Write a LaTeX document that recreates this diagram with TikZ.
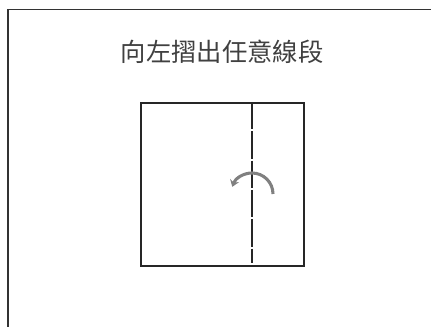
\documentclass[tikz,border=0pt]{standalone}
\usepackage{fontspec}
\newfontfamily\cjk{Noto Sans CJK TC}
\usetikzlibrary{arrows.meta}
\begin{document}
\begin{tikzpicture}[x=0.75pt,y=-0.75pt,
  frame/.style={draw=black!80,line width=1.3pt},
  sq/.style={draw=black!85,line width=1.2pt},
  fold/.style={draw=black!85,line width=1.1pt,dash pattern=on 20.5pt off 1.5pt},
  turn/.style={draw=black!50,line width=2.3pt,-{Stealth[length=5pt,width=7pt]}},
  title/.style={font=\cjk\fontsize{19}{22}\selectfont,text=black!75,inner sep=0pt}]
\useasboundingbox (0,0) rectangle (431,327);
\draw[frame] (8,340) -- (8,9.5) -- (440,9.5);
\node[sq,minimum width=163*0.75pt,minimum height=163*0.75pt,anchor=north west,inner sep=0pt] (paper) at (140,102) {};
\coordinate (ftop) at (252,102);
\coordinate (fbot) at (252,263);
\draw[fold] (ftop) -- (fbot);
\coordinate (astart) at (273,194);
\draw[turn] (astart) arc[start angle=0,end angle=-160,radius=21];
\node[title] (t) at (222,52) {向左摺出任意線段};
\end{tikzpicture}
\end{document}
